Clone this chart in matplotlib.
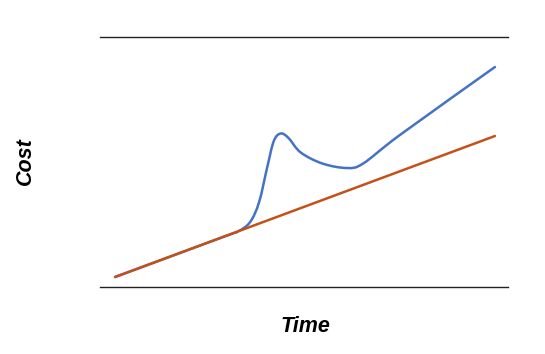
import matplotlib
matplotlib.use("Agg")
import matplotlib.pyplot as plt
from matplotlib.path import Path
from matplotlib.patches import PathPatch

# Data (arbitrary units: time 0-100, cost 0-100)
red_time = [3.7, 96.8]
red_cost = [4.0, 60.4]

blue_time = [3.7, 30.0, 33.8, 36.8, 39.0, 41.0, 42.6, 44.3, 46.2, 49.2,
             54.5, 60.5, 64.5, 73.5, 96.8]
blue_cost = [4.0, 19.9, 22.2, 26.0, 34.0, 48.0, 58.4, 61.4, 59.6, 53.8,
             49.4, 47.6, 49.4, 60.8, 88.0]


def smooth_path(xs, ys, k=1/6):
    """Catmull-Rom style smoothing expressed as cubic Bezier path."""
    n = len(xs)
    verts = [(xs[0], ys[0])]
    codes = [Path.MOVETO]
    for i in range(n - 1):
        x0, y0 = (xs[i - 1], ys[i - 1]) if i > 0 else (xs[i], ys[i])
        x1, y1 = xs[i], ys[i]
        x2, y2 = xs[i + 1], ys[i + 1]
        x3, y3 = (xs[i + 2], ys[i + 2]) if i + 2 < n else (x2, y2)
        c1 = (x1 + (x2 - x0) * k, y1 + (y2 - y0) * k)
        c2 = (x2 - (x3 - x1) * k, y2 - (y3 - y1) * k)
        verts += [c1, c2, (x2, y2)]
        codes += [Path.CURVE4] * 3
    return Path(verts, codes)


fig = plt.figure(figsize=(5.45, 3.54), dpi=100)
ax = fig.add_axes([100/545, (354-287)/354, 408/545, 250/354])

ax.add_patch(PathPatch(smooth_path(blue_time, blue_cost), facecolor="none",
                       edgecolor="#4472C4", lw=1.8, capstyle="round",
                       joinstyle="round"))
ax.plot(red_time, red_cost, color="#C4501A", lw=1.8, solid_capstyle="round")

ax.set_xlim(0, 100)
ax.set_ylim(0, 100)
for s in ["left", "right"]:
    ax.spines[s].set_visible(False)
for s in ["top", "bottom"]:
    ax.spines[s].set_color("#222222")
    ax.spines[s].set_linewidth(1.0)
ax.set_xticks([])
ax.set_yticks([])

fig.text(305/545, 1 - 327/354, "Time", ha="center", va="center",
         fontsize=15.5, fontweight="bold", fontstyle="italic", family="Liberation Sans")
fig.text(25/545, 1 - 161/354, "Cost", ha="center", va="center", rotation=90,
         fontsize=15.5, fontweight="bold", fontstyle="italic", family="Liberation Sans")

fig.savefig("out.png", dpi=100)
